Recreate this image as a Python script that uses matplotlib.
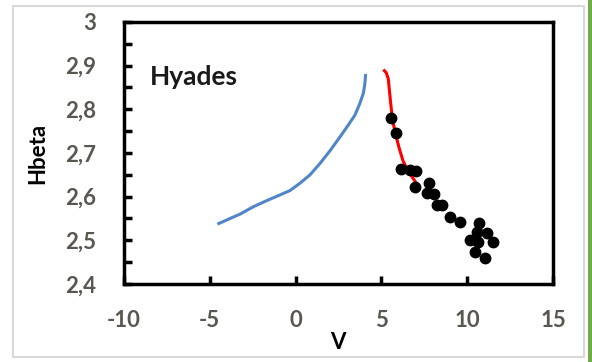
import matplotlib
matplotlib.use("Agg")
import matplotlib.pyplot as plt
from matplotlib.patches import Rectangle
from matplotlib.ticker import MultipleLocator, FuncFormatter

plt.rcParams["axes.unicode_minus"] = False

# Data
blue_v = [-4.56, -3.82, -3.24, -2.46, -1.68, -0.91, -0.33, 0.26, 0.84, 1.42,
          2.00, 2.59, 3.07, 3.46, 3.75, 3.95, 4.04, 4.08]
blue_h = [2.537, 2.550, 2.560, 2.577, 2.591, 2.604, 2.614, 2.631, 2.650, 2.676,
          2.705, 2.737, 2.764, 2.787, 2.814, 2.837, 2.860, 2.881]

red_v = [5.11, 5.28, 5.40, 5.47, 5.55, 5.66, 5.83, 6.03, 6.26, 6.55, 6.88, 7.05]
red_h = [2.891, 2.884, 2.870, 2.842, 2.811, 2.773, 2.743, 2.712, 2.682, 2.659, 2.640, 2.630]

pts_v = [5.56, 5.83, 6.14, 6.67, 7.02, 6.98, 7.79, 7.64, 8.07, 8.22, 8.51,
         9.00, 9.58, 10.71, 10.55, 11.13, 10.16, 10.65, 11.52, 10.45, 11.03]
pts_h = [2.781, 2.745, 2.663, 2.661, 2.659, 2.623, 2.631, 2.608, 2.606, 2.581, 2.581,
         2.554, 2.543, 2.539, 2.520, 2.516, 2.501, 2.497, 2.497, 2.474, 2.459]

x_ticks = [-10, -5, 0, 5, 10, 15]
y_ticks = [2.4, 2.5, 2.6, 2.7, 2.8, 2.9, 3.0]

W, H = 592, 362
fig = plt.figure(figsize=(W / 100, H / 100), dpi=100)
fig.patch.set_facecolor("white")

# outer chart frame and green stripe
fig.add_artist(Rectangle((13 / W, 1 - 357 / H), (584 - 13) / W, (357 - 6) / H,
                         transform=fig.transFigure, fill=False,
                         edgecolor="#d9d9d9", lw=1.5))
fig.add_artist(Rectangle((588 / W, 0), 4 / W, 1, transform=fig.transFigure,
                         facecolor="#70ad47", edgecolor="none"))

ax = fig.add_axes([124 / W, 1 - 284 / H, (553 - 124) / W, (284 - 22) / H])

ax.plot(blue_v, blue_h, color="#5085c8", lw=2.2, solid_capstyle="butt")
ax.plot(red_v, red_h, color="#ff0000", lw=2.2, solid_capstyle="butt")
ax.plot(pts_v, pts_h, "o", color="black", markersize=7.5, zorder=3)

ax.set_xlim(-10, 15)
ax.set_ylim(2.4, 3.0)
ax.set_xticks(x_ticks)
ax.set_yticks(y_ticks)
ax.yaxis.set_minor_locator(MultipleLocator(0.05))

fmt_y = FuncFormatter(lambda v, p: ("%g" % round(v, 2)).replace(".", ","))
ax.yaxis.set_major_formatter(fmt_y)
ax.xaxis.set_major_formatter(FuncFormatter(lambda v, p: "%d" % round(v)))

font = "Lato"
for sp in ax.spines.values():
    sp.set_linewidth(2.5)
    sp.set_color("black")

ax.tick_params(axis="both", which="both", direction="in", width=2.5,
               color="black", labelcolor="#5a5650", labelsize=16)
ax.tick_params(axis="x", which="major", length=6, pad=19)
ax.tick_params(axis="y", which="major", length=6, pad=20)
ax.tick_params(axis="y", which="minor", length=6)
for lab in ax.get_xticklabels() + ax.get_yticklabels():
    lab.set_fontfamily(font)
    lab.set_fontweight("bold")

ax.set_xlabel("V", fontfamily=font, fontweight="bold", fontsize=16, color="black")
ax.xaxis.set_label_coords(0.499, -0.185)
ax.set_ylabel("Hbeta", fontfamily=font, fontweight="bold", fontsize=16, color="black")
ax.yaxis.set_label_coords(-0.177, 0.5)

ax.text(-8.5, 2.874, "Hyades", fontfamily=font, fontweight="bold", fontsize=19,
        color="#1a1a1a", ha="left", va="center")

fig.savefig("out.png", dpi=100, facecolor="white")
